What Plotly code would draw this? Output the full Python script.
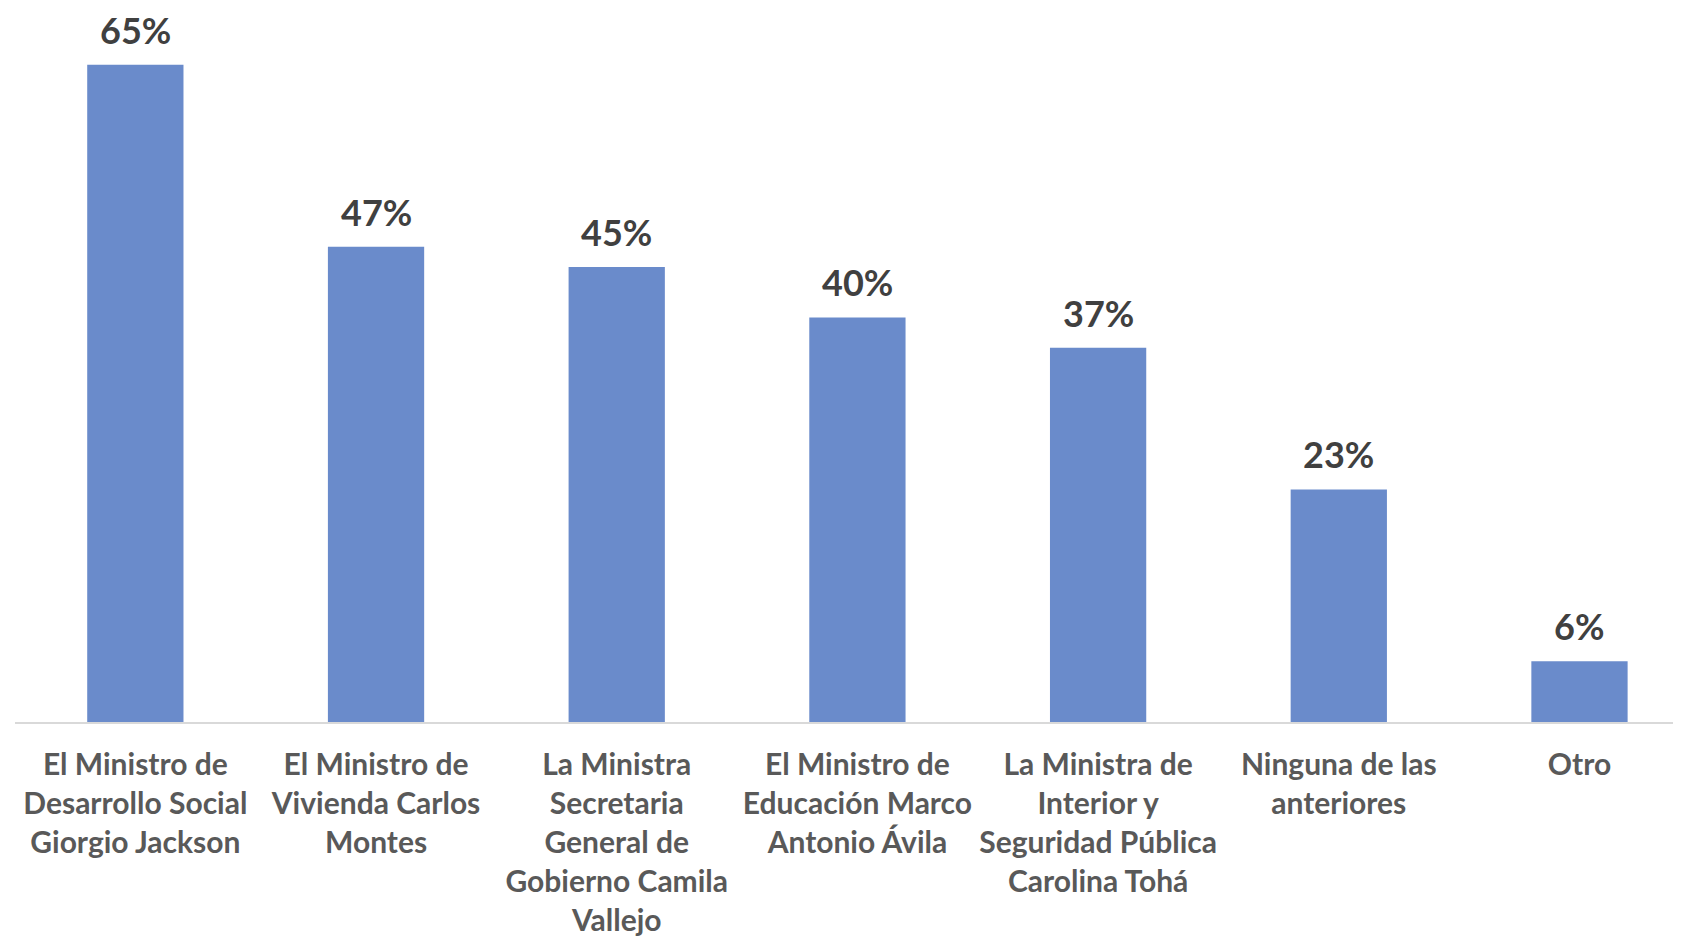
import plotly.graph_objects as go

categorias = [
    "El Ministro de<br>Desarrollo Social<br>Giorgio Jackson",
    "El Ministro de<br>Vivienda Carlos<br>Montes",
    "La Ministra<br>Secretaria<br>General de<br>Gobierno Camila<br>Vallejo",
    "El Ministro de<br>Educación Marco<br>Antonio Ávila",
    "La Ministra de<br>Interior y<br>Seguridad Pública<br>Carolina Tohá",
    "Ninguna de las<br>anteriores",
    "Otro",
]
porcentajes = [65, 47, 45, 40, 37, 23, 6]
etiquetas = [f"{v}%" for v in porcentajes]

fig = go.Figure()
fig.add_trace(go.Bar(
    x=categorias,
    y=porcentajes,
    marker=dict(color="#6a8bcb", line=dict(width=0)),
    width=0.4,
))

# etiquetas de datos sobre cada barra
for cat, val, txt in zip(categorias, porcentajes, etiquetas):
    fig.add_annotation(
        x=cat, y=val, text=txt, showarrow=False,
        yanchor="middle", yshift=35, borderpad=0,
        font=dict(family="Lato", size=36, color="#404040", weight="bold"),
    )

fig.update_layout(
    width=1681, height=936,
    margin=dict(l=7, r=0, t=0, b=222),
    paper_bgcolor="white",
    plot_bgcolor="white",
    showlegend=False,
    xaxis=dict(
        range=[-0.5, 6.455],
        showline=True, linecolor="#d9d9d9", linewidth=2,
        ticks="", ticklabelstandoff=15,
        tickfont=dict(family="Lato", size=30, color="#595959", weight="bold"),
        tickangle=0,
    ),
    yaxis=dict(range=[0, 70.6], visible=False, showgrid=False),
)

fig.write_html("out.html")
